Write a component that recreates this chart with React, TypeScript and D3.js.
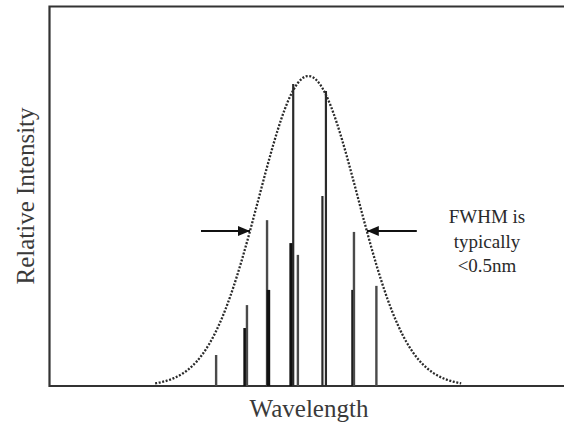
import * as d3 from 'd3';
import React from 'react';

// spectral lines (offset from centre in nm, relative intensity, style)
const lineNm = [-0.389, -0.265, -0.257, -0.171, -0.165, -0.068, -0.059, -0.039, 0.066, 0.081, 0.197, 0.201, 0.297];
const lineIntensity = [0.10, 0.187, 0.261, 0.535, 0.31, 0.461, 0.974, 0.423, 0.613, 0.952, 0.31, 0.497, 0.323];
const lineKind = ['gray', 'black', 'gray', 'gray', 'black', 'black', 'dark', 'gray', 'dark', 'dark', 'black', 'gray', 'gray'];

// envelope
const centreNm = 0.006;
const fwhmNm = 0.5;
const curveFrom = -0.65;
const curveTo = 0.66;

const noteLines = ['FWHM is', 'typically', '<0.5nm'];
const xLabel = 'Wavelength';
const yLabel = 'Relative Intensity';

const W = 564;
const H = 428;
const left = 49.5;
const top = 6.5;
const bottom = 386;

const kindStyle: Record<string, { stroke: string; width: number }> = {
  black: { stroke: '#111', width: 3.5 },
  dark: { stroke: '#2a2a2a', width: 2.2 },
  gray: { stroke: '#4a4a4a', width: 2.4 },
};

export default function App() {
  const x = d3.scaleLinear().domain([-1.1, 1.1]).range([50, 564]);
  const y = d3.scaleLinear().domain([0, 1]).range([bottom, 76]);

  const sigma = fwhmNm / (2 * Math.sqrt(2 * Math.log(2)));
  const gauss = (v: number) => Math.exp(-((v - centreNm) ** 2) / (2 * sigma * sigma));
  const pts = d3.range(curveFrom, curveTo + 0.0001, 0.005);
  const curve = d3
    .line<number>()
    .x(d => x(d))
    .y(d => y(gauss(d)))
    .curve(d3.curveBasis)(pts);

  const halfY = y(0.5);
  const xl = x(centreNm - fwhmNm / 2);
  const xr = x(centreNm + fwhmNm / 2);
  const font = 'Liberation Serif, serif';

  return (
    <svg width={W} height={H} style={{ position: 'absolute', left: 0, top: 0, background: '#fff' }}>
      <defs>
        <marker id="head" viewBox="0 0 12 10" refX="12" refY="5" markerWidth="12" markerHeight="10"
          markerUnits="userSpaceOnUse" orient="auto">
          <path d="M0,0 L12,5 L0,10 Z" fill="#111" />
        </marker>
      </defs>

      {/* frame */}
      <path d={`M${W},${top} H${left} V${bottom} H${W}`} fill="none" stroke="#333" strokeWidth={2.2} />

      {/* spectral lines */}
      {lineNm.map((v, i) => (
        <line key={i} x1={x(v)} x2={x(v)} y1={bottom} y2={y(lineIntensity[i])}
          stroke={kindStyle[lineKind[i]].stroke} strokeWidth={kindStyle[lineKind[i]].width} />
      ))}

      {/* envelope */}
      <path d={curve || ''} fill="none" stroke="#2a2a2a" strokeWidth={2.3} strokeDasharray="2,1.6" />

      {/* FWHM arrows */}
      <line x1={xl - 49} x2={xl} y1={halfY} y2={halfY} stroke="#111" strokeWidth={2} markerEnd="url(#head)" />
      <line x1={xr + 50} x2={xr} y1={halfY} y2={halfY} stroke="#111" strokeWidth={2} markerEnd="url(#head)" />

      <text style={{ fontFamily: font }} fontSize={19} fill="#2a2a2a" textAnchor="middle">
        {noteLines.map((t, i) => (
          <tspan key={i} x={487} y={223 + i * 24.5}>{t}</tspan>
        ))}
      </text>

      <text x={309} y={417} style={{ fontFamily: font }} fontSize={25} fill="#3a3a3a" textAnchor="middle">{xLabel}</text>
      <text transform={`translate(34,196) rotate(-90)`} style={{ fontFamily: font }} fontSize={25} fill="#3a3a3a"
        textAnchor="middle">{yLabel}</text>
    </svg>
  );
}
